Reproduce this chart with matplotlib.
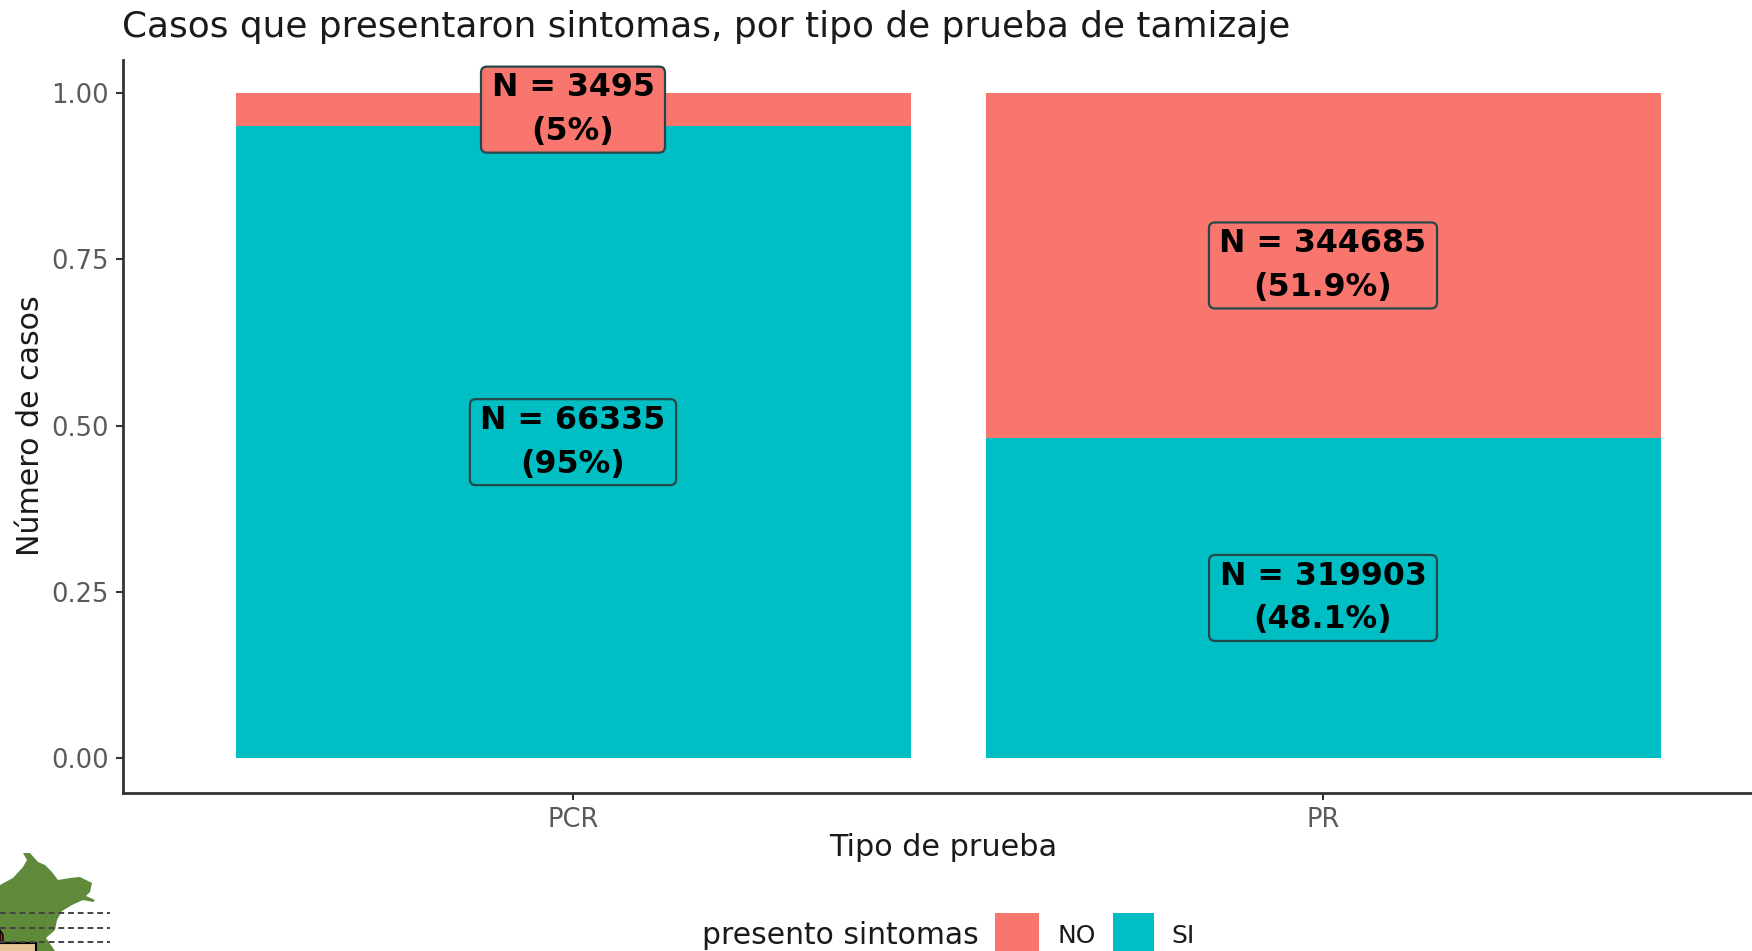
import matplotlib
matplotlib.use('Agg')
import matplotlib.pyplot as plt
from matplotlib.patches import FancyBboxPatch, Polygon, Rectangle
from matplotlib.transforms import IdentityTransform
import numpy as np

tests = ['PCR', 'PR']
n_no = [3495, 344685]
n_si = [66335, 319903]
pct_no = ['5%', '51.9%']
pct_si = ['95%', '48.1%']
yticks = [0.00, 0.25, 0.50, 0.75, 1.00]

RED = '#F8766D'
TEAL = '#00BFC4'
W, H = 1752, 951

# corner map outline, in pixels from the top left of the figure
map_x = [0, 13, 23, 27, 23, 30, 38, 45, 52, 58, 70, 80, 92, 90, 86, 95, 93, 83, 72, 62, 57, 55, 46, 55, 0]
map_y = [885, 878, 867, 860, 853, 853, 862, 865, 872, 880, 878, 877, 883, 892, 896, 900, 902, 900, 905, 911, 920, 930, 938, 951, 951]

fig = plt.figure(figsize=(W / 100, H / 100), dpi=100)
ax = fig.add_axes([123 / W, 1 - 793 / H, (W - 123) / W, 733 / H])

x = np.arange(1, len(tests) + 1)
no = np.array(n_no, dtype=float)
si = np.array(n_si, dtype=float)
total = no + si
si_share = si / total
no_share = no / total

ax.bar(x, si_share, width=0.9, color=TEAL, linewidth=0)
ax.bar(x, no_share, width=0.9, bottom=si_share, color=RED, linewidth=0)

ax.set_xlim(0.4, 2.572)
ax.set_ylim(-0.0526, 1.0496)
ax.set_xticks(x)
ax.set_xticklabels(tests)
ax.set_yticks(yticks)
ax.set_yticklabels([f'{v:.2f}' for v in yticks])
ax.tick_params(axis='both', labelsize=18.5, labelcolor='#5a5a5a', color='#333333',
               length=5, width=1.5, pad=5)
for side in ['top', 'right']:
    ax.spines[side].set_visible(False)
for side in ['left', 'bottom']:
    ax.spines[side].set_color('#333333')
    ax.spines[side].set_linewidth(2)


def label(xpos, ypos, n, pct, fill):
    t = ax.text(xpos, ypos, f'N = {n}\n({pct})', ha='center', va='center',
                fontsize=22.8, fontweight='bold', color='black', linespacing=1.53,
                zorder=6, clip_on=False)
    # box sized in pixels: text width plus margin, fixed height
    ext = t.get_window_extent(fig.canvas.get_renderer())
    cx, cy = ax.transData.transform((xpos, ypos))
    bw, bh = ext.width + 21, 86
    ax.add_patch(FancyBboxPatch((cx - bw / 2 + 5, cy - bh / 2 + 5), bw - 10, bh - 10,
                                boxstyle='round,pad=5,rounding_size=6',
                                transform=IdentityTransform(), facecolor=fill,
                                edgecolor='#24474a', linewidth=1.6, zorder=5, clip_on=False))


for i in range(len(tests)):
    label(x[i], si_share[i] / 2, n_si[i], pct_si[i], TEAL)
    label(x[i], si_share[i] + no_share[i] / 2, n_no[i], pct_no[i], RED)

# overlay in pixel coordinates for title, axis names, legend and the map
over = fig.add_axes([0, 0, 1, 1], facecolor='none')
over.set_xlim(0, W)
over.set_ylim(H, 0)
over.axis('off')

over.text(122, 27, 'Casos que presentaron sintomas, por tipo de prueba de tamizaje',
          fontsize=25.85, color='#1a1a1a', va='center', ha='left')
over.text(31, 426, 'Número de casos', fontsize=21.6, color='#1a1a1a', rotation=90,
          va='center', ha='center')
over.text(943, 848, 'Tipo de prueba', fontsize=21.8, color='#1a1a1a', va='center', ha='center')

over.text(702, 936, 'presento sintomas', fontsize=21.4, color='#1a1a1a', va='center', ha='left')
over.add_patch(Rectangle((995, 913), 44, 40, facecolor=RED, linewidth=0))
over.add_patch(Rectangle((1113, 913), 41, 40, facecolor=TEAL, linewidth=0))
over.text(1057, 936, 'NO', fontsize=18, color='#1a1a1a', va='center', ha='left')
over.text(1171, 936, 'SI', fontsize=18, color='#1a1a1a', va='center', ha='left')

over.add_patch(Polygon(np.column_stack([map_x, map_y]), closed=True, facecolor='#5E8A3A', linewidth=0))
over.add_patch(Polygon([[0, 930], [3, 935], [3, 948], [0, 949]], closed=True,
                       facecolor='#A52A2A', edgecolor='black', linewidth=1))
over.add_patch(Rectangle((-2, 943), 38, 12, facecolor='#E8C496', edgecolor='black', linewidth=1.5))
for yline in [913, 927.5, 942]:
    over.plot([0, 110], [yline, yline], color='#444444', linewidth=1.4, linestyle=(0, (3, 2)))

fig.savefig('out.png', dpi=100)
